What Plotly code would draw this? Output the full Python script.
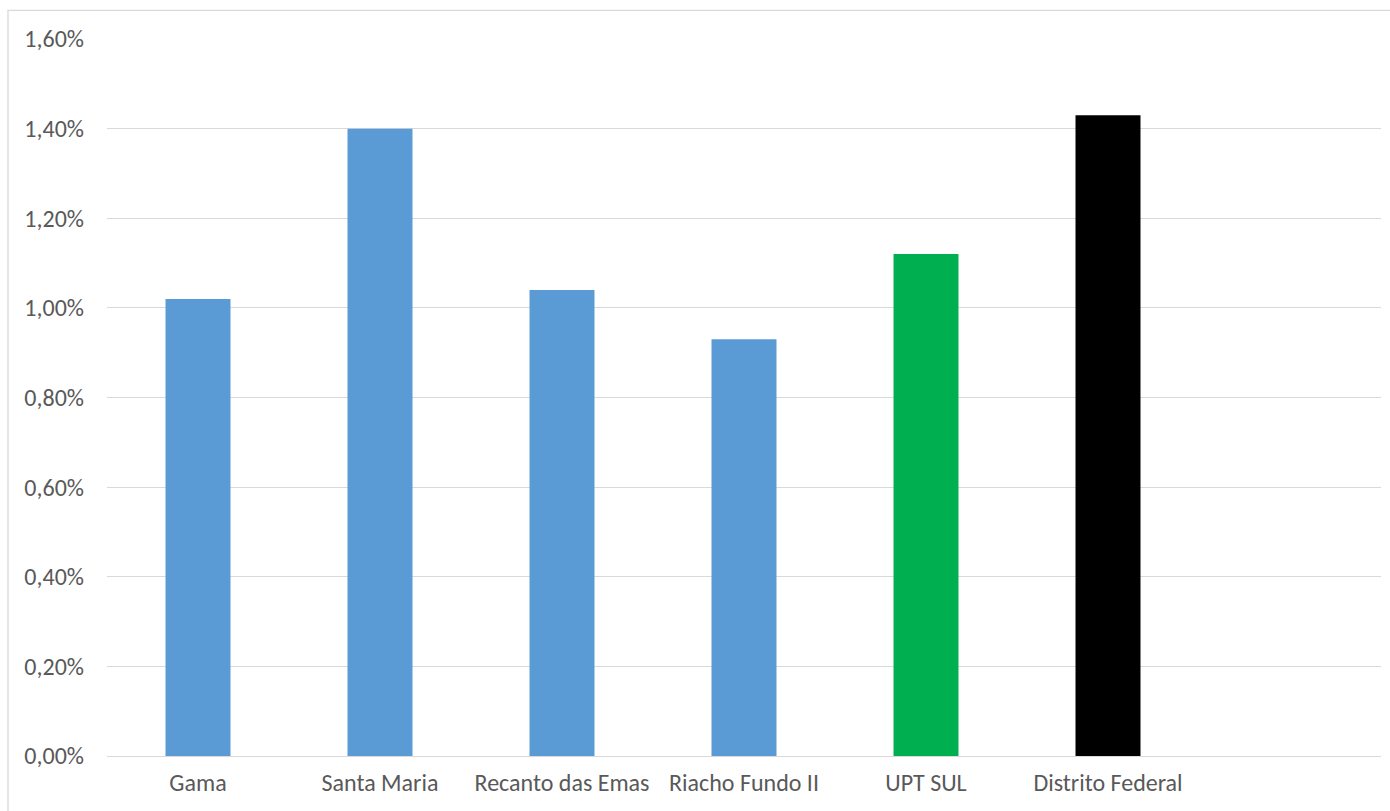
import plotly.graph_objects as go

categories = ["Gama", "Santa Maria", "Recanto das Emas", "Riacho Fundo II", "UPT SUL", "Distrito Federal"]
values = [1.02, 1.40, 1.04, 0.93, 1.12, 1.43]  # percent
colors = ["#5B9BD5", "#5B9BD5", "#5B9BD5", "#5B9BD5", "#00B050", "#000000"]
y_ticks = [0, 0.2, 0.4, 0.6, 0.8, 1.0, 1.2, 1.4, 1.6]

fig = go.Figure()
fig.add_trace(go.Bar(
    x=categories,
    y=[v / 100 for v in values],
    marker=dict(color=colors, line=dict(width=0)),
    hoverinfo="x+y",
))

font_family = "Carlito, Calibri, Lato, 'Open Sans', sans-serif"
fig.update_layout(
    width=1390, height=811,
    margin=dict(l=107, r=9, t=39, b=55),
    paper_bgcolor="white", plot_bgcolor="white",
    bargap=0.643,
    separators=",.",
    showlegend=False,
    font=dict(family=font_family, size=24, color="#595959"),
    xaxis=dict(
        type="category",
        categoryorder="array", categoryarray=categories,
        range=[-0.5, 6.5],
        showgrid=False, zeroline=False, showline=False,
        ticks="", ticklabelstandoff=10,
        tickfont=dict(size=24, color="#595959"),
    ),
    yaxis=dict(
        range=[0, 0.016],
        tickvals=[t / 100 for t in y_ticks],
        tickformat=".2%",
        showgrid=True, gridcolor="#D9D9D9", gridwidth=1.3,
        zeroline=True, zerolinecolor="#D9D9D9", zerolinewidth=1.3,
        showline=False, ticks="", ticklabelstandoff=22,
        tickfont=dict(size=24, color="#595959"),
    ),
    shapes=[dict(
        type="rect", xref="paper", yref="paper",
        x0=-0.0777, x1=1.05, y0=-0.2, y1=1.0398,
        line=dict(color="#D9D9D9", width=1.3), layer="below",
    )],
)

fig.write_html("out.html")
